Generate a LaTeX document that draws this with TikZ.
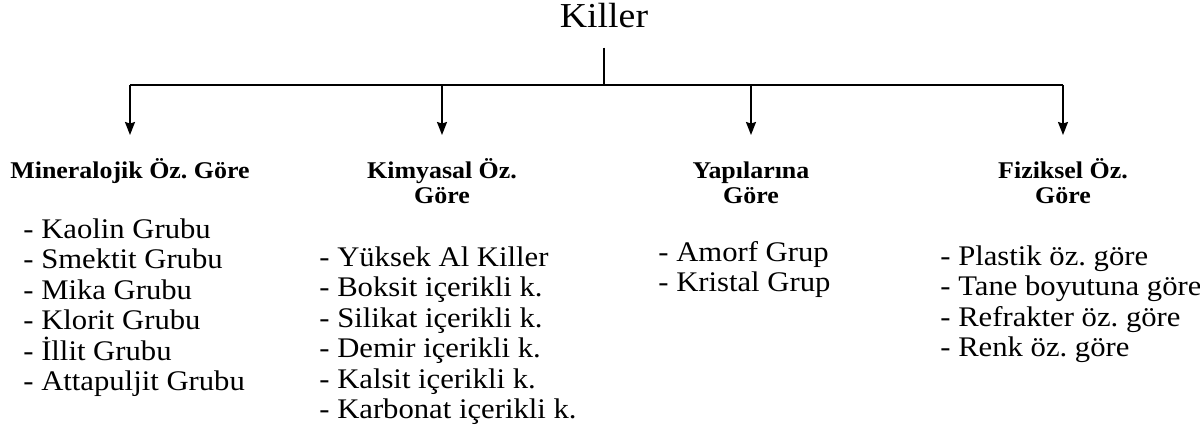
\documentclass[tikz,border=0pt]{standalone}
\usepackage{fontspec}
\setmainfont[FakeStretch=1.08]{Liberation Serif}
\usetikzlibrary{positioning,arrows.meta}
\frenchspacing

\begin{document}
\begin{tikzpicture}[
    x=0.5pt, y=-0.5pt,
    heading/.style={font=\fontsize{12}{12.5}\selectfont\bfseries, align=center, anchor=north, inner sep=0pt},
    itemlist/.style={font=\fontsize{14.2}{15.25}\selectfont, align=left, anchor=north west, inner sep=0pt},
    branch/.style={-{Stealth[length=6.5pt,width=5pt,inset=0.8pt]}, line width=0.9pt, shorten >=10.5pt},
    >=stealth
]
\useasboundingbox (0,0) rectangle (1200,432);

% Root
\node[font=\fontsize{17.5}{20}\selectfont, anchor=base, inner sep=0pt] (root) at (604,28) {Killer};

% Bar coordinates
\coordinate (J) at (604,85);
\coordinate (B1) at (130,85);
\coordinate (B2) at (442,85);
\coordinate (B3) at (751,85);
\coordinate (B4) at (1063,85);

% Headings
\node[heading] (H1) at (130,156) {\rule{0pt}{11pt}Mineralojik Öz. Göre};
\node[heading] (H2) at (442,156) {\rule{0pt}{11pt}Kimyasal Öz.\\Göre};
\node[heading] (H3) at (751,156) {\rule{0pt}{11pt}Yapılarına\\Göre};
\node[heading] (H4) at (1063,156) {\rule{0pt}{11pt}Fiziksel Öz.\\Göre};

% Lists
\node[itemlist] (L1) at (23,214) {\rule{0pt}{12pt}- Kaolin Grubu\\- Smektit Grubu\\- Mika Grubu\\- Klorit Grubu\\- İllit Grubu\\- Attapuljit Grubu};
\node[itemlist] (L2) at (319,242) {\rule{0pt}{12pt}- Yüksek Al Killer\\- Boksit içerikli k.\\- Silikat içerikli k.\\- Demir içerikli k.\\- Kalsit içerikli k.\\- Karbonat içerikli k.};
\node[itemlist] (L3) at (658,237) {\rule{0pt}{12pt}- Amorf Grup\\- Kristal Grup};
\node[itemlist] (L4) at (940,241) {\rule{0pt}{12pt}- Plastik öz. göre\\- Tane boyutuna göre\\- Refrakter öz. göre\\- Renk öz. göre};

% Connectors
\draw[line width=0.7pt, shorten <=9.5pt] (root) -- (J);
\draw[line width=0.9pt] (B1) -- (B4);
\foreach \i in {1,2,3,4}
  \draw[branch] (B\i) -- (H\i.north);

\end{tikzpicture}
\end{document}
